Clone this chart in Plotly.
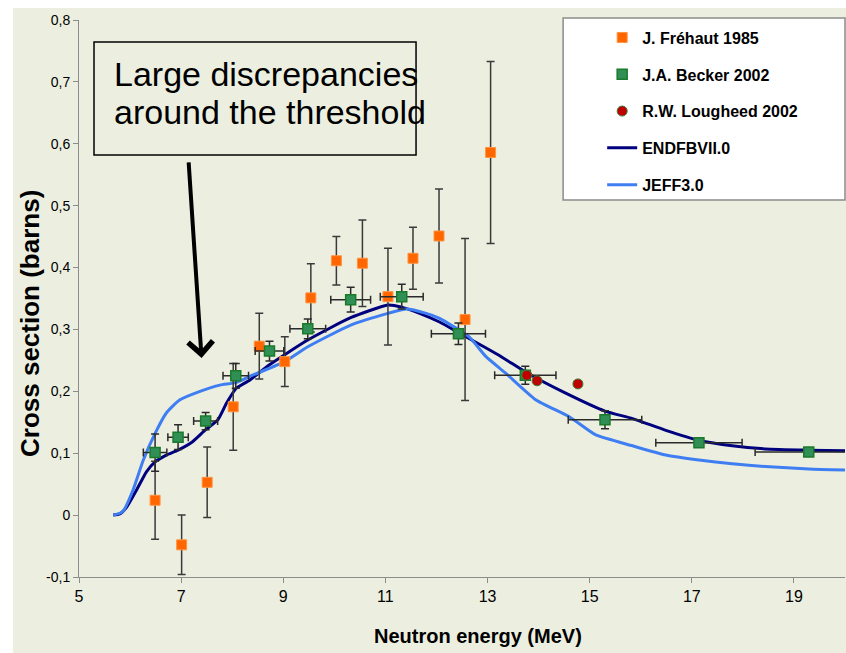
import plotly.graph_objects as go

# J. Fréhaut 1985 (orange)
frehaut_e = [6.49, 7.01, 7.51, 8.02, 8.53, 9.03, 9.54, 10.04, 10.55, 11.05, 11.54, 12.05, 12.56, 13.06]
frehaut_xs = [0.024, -0.048, 0.053, 0.175, 0.273, 0.248, 0.351, 0.411, 0.407, 0.353, 0.415, 0.451, 0.316, 0.586]
frehaut_err = [0.063, 0.048, 0.057, 0.07, 0.053, 0.04, 0.055, 0.039, 0.07, 0.078, 0.05, 0.076, 0.131, 0.147]

# J.A. Becker 2002 (green)
becker_e = [6.49, 6.94, 7.48, 8.07, 8.73, 9.48, 10.32, 11.32, 12.43, 13.74, 15.30, 17.14, 19.29]
becker_xs = [0.101, 0.126, 0.152, 0.225, 0.265, 0.301, 0.348, 0.353, 0.293, 0.226, 0.154, 0.117, 0.102]
becker_xerr = [0.23, 0.2, 0.235, 0.25, 0.28, 0.35, 0.39, 0.42, 0.53, 0.6, 0.72, 0.845, 1.05]
becker_yerr = [0.03, 0.02, 0.014, 0.02, 0.016, 0.016, 0.02, 0.02, 0.0175, 0.0145, 0.0145, 0.005, 0.004]

# R.W. Lougheed 2002 (red)
lougheed_e = [13.77, 13.97, 14.77]
lougheed_xs = [0.226, 0.217, 0.212]

# ENDF/B-VII.0 evaluation
endf_e = [5.67, 5.80, 5.93, 6.13, 6.32, 6.49, 6.71, 6.94, 7.23, 7.48, 7.72, 7.89, 8.08, 8.34,
          8.73, 9.48, 10.32, 11.05, 11.32, 11.67, 12.06, 12.43, 13.23, 13.77, 14.53, 15.30,
          15.84, 16.49, 17.14, 17.79, 18.44, 19.29, 20.0]
endf_xs = [0.0, 0.002, 0.0125, 0.041, 0.070, 0.086, 0.097, 0.105, 0.119, 0.138, 0.154, 0.181, 0.205, 0.218,
           0.243, 0.283, 0.319, 0.3395, 0.336, 0.326, 0.312, 0.295, 0.258, 0.230, 0.197, 0.168,
           0.156, 0.137, 0.121, 0.112, 0.107, 0.105, 0.104]

# JEFF3.0 evaluation
jeff_e = [5.67, 5.80, 5.87, 6.06, 6.26, 6.49, 6.71, 6.97, 7.37, 7.76, 8.07, 8.41, 9.03, 9.48,
          10.32, 11.05, 11.41, 11.80, 12.06, 12.64, 12.97, 13.36, 13.95, 14.60, 15.12, 15.84,
          16.49, 17.14, 17.79, 18.44, 19.29, 20.0]
jeff_xs = [0.0, 0.003, 0.007, 0.041, 0.089, 0.132, 0.165, 0.186, 0.200, 0.210, 0.214, 0.2265, 0.248, 0.272,
           0.307, 0.326, 0.333, 0.326, 0.318, 0.288, 0.256, 0.229, 0.186, 0.159, 0.1295, 0.112,
           0.097, 0.089, 0.083, 0.0785, 0.0746, 0.073]

y_ticks = [-0.1, 0, 0.1, 0.2, 0.3, 0.4, 0.5, 0.6, 0.7, 0.8]
y_tick_labels = ['-0,1', '0', '0,1', '0,2', '0,3', '0,4', '0,5', '0,6', '0,7', '0,8']
x_ticks = [5, 7, 9, 11, 13, 15, 17, 19]

BG = '#ECEFE0'
ARIAL = 'Liberation Sans, Arial'

fig = go.Figure()

fig.add_trace(go.Scatter(x=endf_e, y=endf_xs, mode='lines', name='ENDFBVII.0',
                         line=dict(color='#00007F', width=3, shape='spline', smoothing=0.5),
                         legendgroup='d', legendrank=4))
fig.add_trace(go.Scatter(x=jeff_e, y=jeff_xs, mode='lines', name='JEFF3.0',
                         line=dict(color='#3F7EF2', width=3, shape='spline', smoothing=0.5),
                         legendgroup='e', legendrank=5))

fig.add_trace(go.Scatter(x=frehaut_e, y=frehaut_xs, mode='markers', name='J. Fréhaut 1985',
                         marker=dict(symbol='square', size=10, color='#FF6600',
                                     line=dict(color='#FF9440', width=1)),
                         error_y=dict(type='data', array=frehaut_err, color='#3a3a3a',
                                      thickness=1.5, width=4),
                         legendgroup='a', legendrank=1))
fig.add_trace(go.Scatter(x=becker_e, y=becker_xs, mode='markers', name='J.A. Becker 2002',
                         marker=dict(symbol='square', size=10, color='#2F8F55',
                                     line=dict(color='#1A7A2A', width=1.5)),
                         error_y=dict(type='data', array=becker_yerr, color='#2a2a2a',
                                      thickness=1.5, width=4),
                         error_x=dict(type='data', array=becker_xerr, color='#2a2a2a',
                                      thickness=1.5, width=4),
                         legendgroup='b', legendrank=2))
fig.add_trace(go.Scatter(x=lougheed_e, y=lougheed_xs, mode='markers', name='R.W. Lougheed 2002',
                         marker=dict(symbol='circle', size=10, color='#C00000',
                                     line=dict(color='#3A7A3A', width=1)),
                         legendgroup='c', legendrank=3))

# white strips at the top and left, rest of the slide in the light background
fig.add_shape(type='rect', xref='paper', yref='paper', x0=-0.0862, x1=1.01, y0=-0.2, y1=1.0215,
              fillcolor=BG, line=dict(width=0), layer='below')
# legend box
fig.add_shape(type='rect', xref='paper', yref='paper', x0=0.632, x1=1.0, y0=0.677, y1=1.0036,
              fillcolor='white', line=dict(color='#8c8c8c', width=1.5), layer='above')
# annotation box
fig.add_shape(type='rect', xref='paper', yref='paper', x0=0.0196, x1=0.44, y0=0.7576, y1=0.9605,
              line=dict(color='black', width=1.5), layer='above')

fig.add_annotation(xref='paper', yref='paper', x=0.0433, y=(577 - 74) / 557, xanchor='left',
                   yanchor='middle', text='Large discrepancies', showarrow=False,
                   font=dict(family=ARIAL, size=34, color='black'))
fig.add_annotation(xref='paper', yref='paper', x=0.0433, y=(577 - 112) / 557, xanchor='left',
                   yanchor='middle', text='around the threshold', showarrow=False,
                   font=dict(family=ARIAL, size=34, color='black'))
fig.add_annotation(x=7.40, y=0.254, text='', showarrow=True, ax=-13, ay=-197,
                   arrowhead=4, arrowsize=1.2, arrowwidth=4, arrowcolor='black')

fig.add_annotation(xref='paper', yref='paper', x=-0.064, y=0.456, xanchor='center', yanchor='middle',
                   text='<b>Cross section (barns)</b>', textangle=-90, showarrow=False,
                   font=dict(family=ARIAL, size=26, color='black'))
fig.add_annotation(xref='paper', yref='paper', x=0.521, y=(577 - 636) / 557, xanchor='center',
                   yanchor='middle', text='<b>Neutron energy (MeV)</b>', showarrow=False,
                   font=dict(family=ARIAL, size=20, color='black'))

fig.update_xaxes(range=[5, 20], tickvals=x_ticks, ticks='outside', ticklen=5, tickcolor='#8c8c8c',
                 showline=True, linecolor='#8c8c8c', linewidth=1, showgrid=False, zeroline=False,
                 tickfont=dict(family=ARIAL, size=16, color='black'))
fig.update_yaxes(range=[-0.1, 0.8], tickvals=y_ticks, ticktext=y_tick_labels, ticks='outside',
                 ticklen=5, tickcolor='#8c8c8c', showline=True, linecolor='#8c8c8c', linewidth=1,
                 showgrid=False, zeroline=False, tickfont=dict(family=ARIAL, size=14, color='black'))

fig.update_layout(
    width=846, height=653,
    margin=dict(l=79, r=1, t=20, b=76),
    paper_bgcolor='white', plot_bgcolor=BG,
    showlegend=True,
    legend=dict(x=0.683, y=0.999, xanchor='left', yanchor='top', bgcolor='rgba(0,0,0,0)',
                traceorder='grouped', tracegroupgap=13,
                font=dict(family=ARIAL, size=16, color='black', weight='bold')),
)

fig.write_html("out.html", config={'displayModeBar': False},
               post_script="document.body.style.margin='0';document.body.style.overflow='hidden';")
